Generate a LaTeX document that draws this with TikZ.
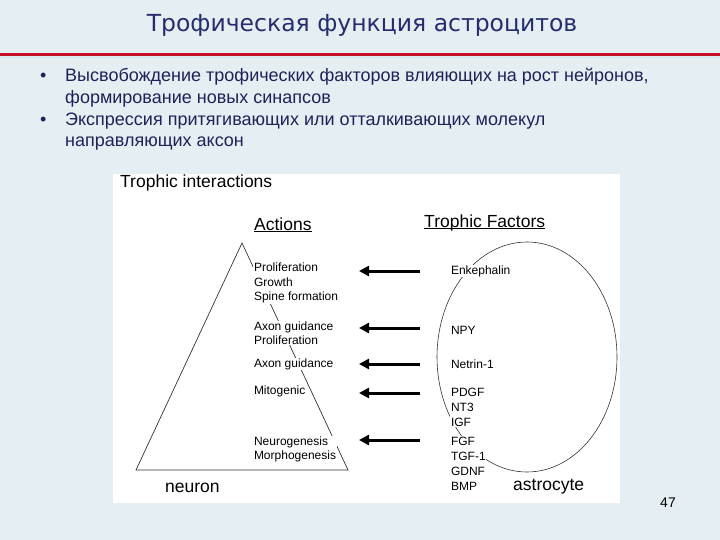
\documentclass[tikz,border=0pt]{standalone}
\usepackage{fontspec}
\setmainfont{Liberation Sans}
\newfontfamily\titlefont{DejaVu Sans}
\usepackage{tikz}
\usetikzlibrary{arrows.meta, positioning}

\definecolor{fundo}{RGB}{229,239,243}
\definecolor{linhavermelha}{RGB}{200,16,46}
\definecolor{tinta}{RGB}{30,34,88}
\definecolor{tintatitulo}{RGB}{38,44,110}

\begin{document}
\begin{tikzpicture}[x=1pt, y=-1pt,
  bullettext/.style={anchor=base west, inner sep=0pt, text=tinta,
    font=\fontsize{18}{21.7}\selectfont},
  heading/.style={anchor=base west, inner sep=0pt, font=\fontsize{17.5}{20}\selectfont},
  actionlabel/.style={anchor=west, fill=white, inner sep=0.8pt, align=left,
    font=\fontsize{12}{14.3}\selectfont},
  factorlabel/.style={anchor=west, fill=white, inner sep=0.8pt, align=left,
    font=\fontsize{12}{15}\selectfont},
  signal/.style={line width=3pt, -{Triangle[length=10pt,width=10pt]}},
  outline/.style={line width=0.7pt, black!80}]
\useasboundingbox (0,0) rectangle (720,540);

% Fundo do slide e faixa vermelha:
\fill[fundo] (0,0) rectangle (720,540);
\draw[linhavermelha, line width=2.2pt] (0,54.5) -- (720,54.5);
\draw[white!60!cyan!30!fundo, line width=1pt] (0,57.5) -- (720,57.5);

% Titulo:
\node[font=\titlefont\fontsize{23.5}{26}\selectfont, text=tintatitulo] (title) at (362,25)
  {Трофическая функция астроцитов};

% Lista com marcadores:
\node[bullettext] (dot1) at (40,82) {•};
\node[bullettext] (item1a) at (65,82) {Высвобождение трофических факторов влияющих на рост нейронов,};
\node[bullettext] (item1b) at (65,104) {формирование новых синапсов};
\node[bullettext] (dot2) at (40,126) {•};
\node[bullettext] (item2a) at (65,126) {Экспрессия притягивающих или отталкивающих молекул};
\node[bullettext] (item2b) at (65,147) {направляющих аксон};

% Painel branco da figura:
\fill[white] (113,174) rectangle (620,503);
\node[heading] (caption) at (120,188) {Trophic interactions};
\node[heading] (actions) at (254,230) {\underline{Actions}};
\node[heading] (factors) at (424,227) {\underline{\smash{Trophic Factors}}};

% Triangulo (neuronio):
\coordinate (apex) at (242,243);
\coordinate (baseL) at (136,470);
\coordinate (baseR) at (348,470);
\draw[outline] (apex) -- (baseL) -- (baseR) -- cycle;
\node[heading] (neuron) at (165,492) {neuron};

% Elipse (astrocito):
\draw[outline, line width=0.6pt] (527,357) ellipse [x radius=90pt, y radius=115pt];
\node[heading] (astrocyte) at (513,490) {astrocyte};

% Efeitos sobre o neuronio:
\node[actionlabel] (act1) at (253,283) {Proliferation\\Growth\\Spine formation};
\node[actionlabel] (act2) at (253,333) {Axon guidance\\Proliferation};
\node[actionlabel] (act3) at (253,364) {Axon guidance};
\node[actionlabel] (act4) at (253,391) {Mitogenic};
\node[actionlabel] (act5) at (253,449.5) {Neurogenesis\\Morphogenesis};

% Fatores liberados pelo astrocito:
\node[factorlabel] (fac1) at (450,271) {Enkephalin};
\node[factorlabel] (fac2) at (450,330) {NPY};
\node[factorlabel] (fac3) at (450,364) {Netrin-1};
\node[factorlabel] (fac4) at (450,407) {PDGF\\NT3\\IGF};
\node[factorlabel] (fac5) at (450,463.5) {FGF\\TGF-1\\GDNF\\BMP};

% Flechas do astrocito para o neuronio:
\foreach \y [count=\i] in {271,328,364,393,440} {
  \coordinate (from\i) at (420,\y);
  \coordinate (to\i) at (359,\y);
  \draw[signal] (from\i) -- (to\i);
}

% Numero do slide:
\node[font=\fontsize{14}{16}\selectfont] (page) at (668,503) {47};
\end{tikzpicture}
\end{document}
